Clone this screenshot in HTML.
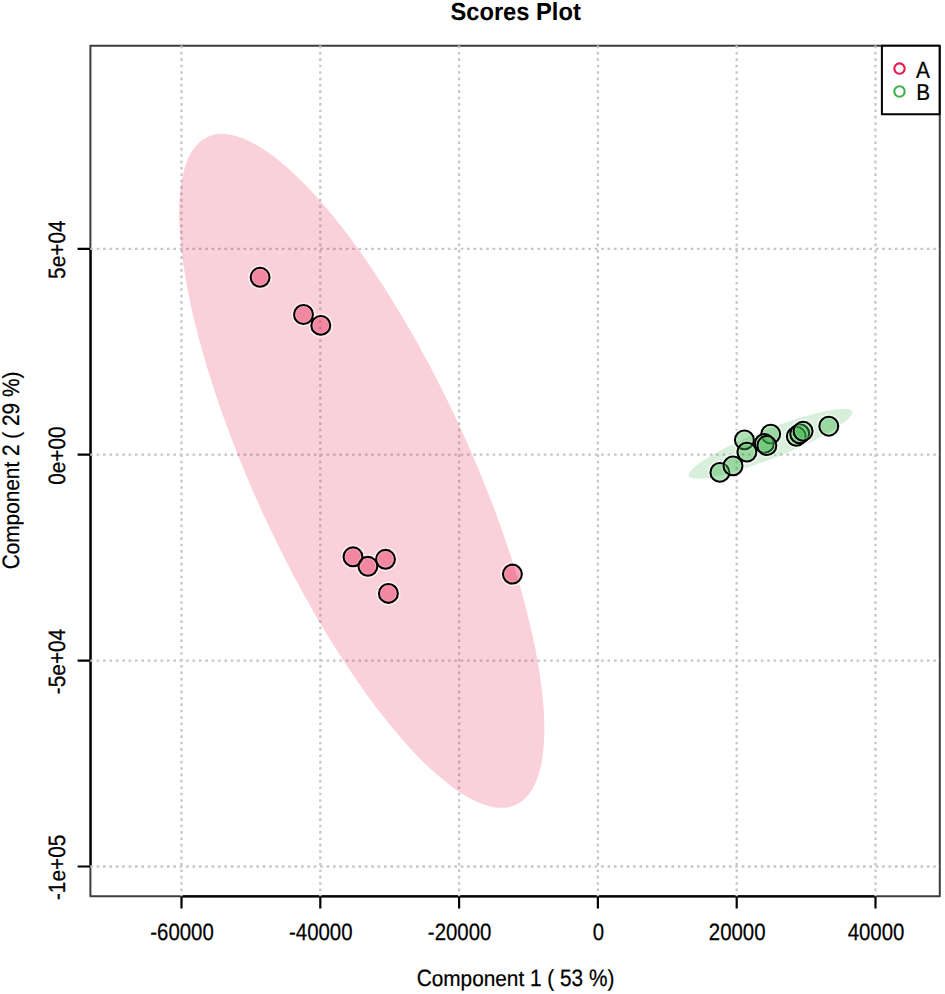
<!DOCTYPE html>
<html><head><meta charset="utf-8"><style>
html,body{margin:0;padding:0;background:#fff;width:945px;height:994px;overflow:hidden}
svg{display:block}
text{font-family:"Liberation Sans",sans-serif;text-rendering:geometricPrecision;stroke:#000;stroke-width:0.22px}
</style></head><body>
<svg width="945" height="994" viewBox="0 0 945 994">
<rect x="0" y="0" width="945" height="994" fill="#fff"/>
<rect x="90.4" y="45.7" width="849.40" height="850.60" fill="none" stroke="#000" stroke-opacity="0.76" stroke-width="2" stroke-linejoin="round"/>
<path d="M181.50 896.3H875.50M181.50 896.3V908.60M320.30 896.3V908.60M459.10 896.3V908.60M597.90 896.3V908.60M736.70 896.3V908.60M875.50 896.3V908.60" stroke="#000" stroke-width="2.2" fill="none" stroke-linejoin="round"/>
<path d="M90.60000000000001 248.80V866.50M90.60000000000001 248.80H77.60M90.60000000000001 454.70H77.60M90.60000000000001 660.60H77.60M90.60000000000001 866.50H77.60" stroke="#000" stroke-width="2.2" fill="none" stroke-linejoin="round"/>
<path d="M181.50 45.60V896.30M320.30 45.60V896.30M459.10 45.60V896.30M597.90 45.60V896.30M736.70 45.60V896.30M875.50 45.60V896.30M90.30 248.80H939.80M90.30 454.70H939.80M90.30 660.60H939.80M90.30 866.50H939.80" stroke="#c6c6c6" stroke-width="2.3" stroke-dasharray="2.6 3.786" fill="none"/>
<ellipse cx="361.78" cy="470.86" rx="367.86" ry="107.6" transform="rotate(65.21 361.78 470.86)" fill="#e6194b" fill-opacity="0.2"/>
<ellipse cx="770.5" cy="443.75" rx="87.9" ry="14.6" transform="rotate(-21.6 770.5 443.75)" fill="#3cb44b" fill-opacity="0.2"/>
<circle cx="260.1" cy="277.3" r="11.28" fill="none" stroke="#fff" stroke-opacity="0.6" stroke-width="1.6"/>
<circle cx="303.5" cy="314.5" r="11.28" fill="none" stroke="#fff" stroke-opacity="0.6" stroke-width="1.6"/>
<circle cx="320.8" cy="325.4" r="11.28" fill="none" stroke="#fff" stroke-opacity="0.6" stroke-width="1.6"/>
<circle cx="353.0" cy="556.8" r="11.28" fill="none" stroke="#fff" stroke-opacity="0.6" stroke-width="1.6"/>
<circle cx="385.5" cy="559.3" r="11.28" fill="none" stroke="#fff" stroke-opacity="0.6" stroke-width="1.6"/>
<circle cx="367.9" cy="566.3" r="11.28" fill="none" stroke="#fff" stroke-opacity="0.6" stroke-width="1.6"/>
<circle cx="388.4" cy="593.4" r="11.28" fill="none" stroke="#fff" stroke-opacity="0.6" stroke-width="1.6"/>
<circle cx="512.4" cy="574.1" r="11.28" fill="none" stroke="#fff" stroke-opacity="0.6" stroke-width="1.6"/>
<circle cx="719.9" cy="472.4" r="11.28" fill="none" stroke="#fff" stroke-opacity="0.6" stroke-width="1.6"/>
<circle cx="733.0" cy="465.9" r="11.28" fill="none" stroke="#fff" stroke-opacity="0.6" stroke-width="1.6"/>
<circle cx="744.4" cy="439.9" r="11.28" fill="none" stroke="#fff" stroke-opacity="0.6" stroke-width="1.6"/>
<circle cx="746.9" cy="452.1" r="11.28" fill="none" stroke="#fff" stroke-opacity="0.6" stroke-width="1.6"/>
<circle cx="770.7" cy="434.1" r="11.28" fill="none" stroke="#fff" stroke-opacity="0.6" stroke-width="1.6"/>
<circle cx="764.4" cy="443.4" r="11.28" fill="none" stroke="#fff" stroke-opacity="0.6" stroke-width="1.6"/>
<circle cx="766.9" cy="445.5" r="11.28" fill="none" stroke="#fff" stroke-opacity="0.6" stroke-width="1.6"/>
<circle cx="796.3" cy="436.3" r="11.28" fill="none" stroke="#fff" stroke-opacity="0.6" stroke-width="1.6"/>
<circle cx="799.7" cy="433.75" r="11.28" fill="none" stroke="#fff" stroke-opacity="0.6" stroke-width="1.6"/>
<circle cx="803.1" cy="431.2" r="11.28" fill="none" stroke="#fff" stroke-opacity="0.6" stroke-width="1.6"/>
<circle cx="828.8" cy="426.2" r="11.28" fill="none" stroke="#fff" stroke-opacity="0.6" stroke-width="1.6"/>
<circle cx="260.1" cy="277.3" r="9.45" fill="#e6194b" fill-opacity="0.4" stroke="#000" stroke-width="2.05"/><circle cx="260.1" cy="277.3" r="7.82" fill="none" stroke="#fff" stroke-opacity="0.22" stroke-width="1.0"/>
<circle cx="303.5" cy="314.5" r="9.45" fill="#e6194b" fill-opacity="0.4" stroke="#000" stroke-width="2.05"/><circle cx="303.5" cy="314.5" r="7.82" fill="none" stroke="#fff" stroke-opacity="0.22" stroke-width="1.0"/>
<circle cx="320.8" cy="325.4" r="9.45" fill="#e6194b" fill-opacity="0.4" stroke="#000" stroke-width="2.05"/><circle cx="320.8" cy="325.4" r="7.82" fill="none" stroke="#fff" stroke-opacity="0.22" stroke-width="1.0"/>
<circle cx="353.0" cy="556.8" r="9.45" fill="#e6194b" fill-opacity="0.4" stroke="#000" stroke-width="2.05"/><circle cx="353.0" cy="556.8" r="7.82" fill="none" stroke="#fff" stroke-opacity="0.22" stroke-width="1.0"/>
<circle cx="385.5" cy="559.3" r="9.45" fill="#e6194b" fill-opacity="0.4" stroke="#000" stroke-width="2.05"/><circle cx="385.5" cy="559.3" r="7.82" fill="none" stroke="#fff" stroke-opacity="0.22" stroke-width="1.0"/>
<circle cx="367.9" cy="566.3" r="9.45" fill="#e6194b" fill-opacity="0.4" stroke="#000" stroke-width="2.05"/><circle cx="367.9" cy="566.3" r="7.82" fill="none" stroke="#fff" stroke-opacity="0.22" stroke-width="1.0"/>
<circle cx="388.4" cy="593.4" r="9.45" fill="#e6194b" fill-opacity="0.4" stroke="#000" stroke-width="2.05"/><circle cx="388.4" cy="593.4" r="7.82" fill="none" stroke="#fff" stroke-opacity="0.22" stroke-width="1.0"/>
<circle cx="512.4" cy="574.1" r="9.45" fill="#e6194b" fill-opacity="0.4" stroke="#000" stroke-width="2.05"/><circle cx="512.4" cy="574.1" r="7.82" fill="none" stroke="#fff" stroke-opacity="0.22" stroke-width="1.0"/>
<circle cx="719.9" cy="472.4" r="9.45" fill="#3cb44b" fill-opacity="0.4" stroke="#000" stroke-width="2.05"/><circle cx="719.9" cy="472.4" r="7.82" fill="none" stroke="#fff" stroke-opacity="0.22" stroke-width="1.0"/>
<circle cx="733.0" cy="465.9" r="9.45" fill="#3cb44b" fill-opacity="0.4" stroke="#000" stroke-width="2.05"/><circle cx="733.0" cy="465.9" r="7.82" fill="none" stroke="#fff" stroke-opacity="0.22" stroke-width="1.0"/>
<circle cx="744.4" cy="439.9" r="9.45" fill="#3cb44b" fill-opacity="0.4" stroke="#000" stroke-width="2.05"/><circle cx="744.4" cy="439.9" r="7.82" fill="none" stroke="#fff" stroke-opacity="0.22" stroke-width="1.0"/>
<circle cx="746.9" cy="452.1" r="9.45" fill="#3cb44b" fill-opacity="0.4" stroke="#000" stroke-width="2.05"/><circle cx="746.9" cy="452.1" r="7.82" fill="none" stroke="#fff" stroke-opacity="0.22" stroke-width="1.0"/>
<circle cx="770.7" cy="434.1" r="9.45" fill="#3cb44b" fill-opacity="0.4" stroke="#000" stroke-width="2.05"/><circle cx="770.7" cy="434.1" r="7.82" fill="none" stroke="#fff" stroke-opacity="0.22" stroke-width="1.0"/>
<circle cx="764.4" cy="443.4" r="9.45" fill="#3cb44b" fill-opacity="0.4" stroke="#000" stroke-width="2.05"/><circle cx="764.4" cy="443.4" r="7.82" fill="none" stroke="#fff" stroke-opacity="0.22" stroke-width="1.0"/>
<circle cx="766.9" cy="445.5" r="9.45" fill="#3cb44b" fill-opacity="0.4" stroke="#000" stroke-width="2.05"/><circle cx="766.9" cy="445.5" r="7.82" fill="none" stroke="#fff" stroke-opacity="0.22" stroke-width="1.0"/>
<circle cx="796.3" cy="436.3" r="9.45" fill="#3cb44b" fill-opacity="0.4" stroke="#000" stroke-width="2.05"/><circle cx="796.3" cy="436.3" r="7.82" fill="none" stroke="#fff" stroke-opacity="0.22" stroke-width="1.0"/>
<circle cx="799.7" cy="433.75" r="9.45" fill="#3cb44b" fill-opacity="0.4" stroke="#000" stroke-width="2.05"/><circle cx="799.7" cy="433.75" r="7.82" fill="none" stroke="#fff" stroke-opacity="0.22" stroke-width="1.0"/>
<circle cx="803.1" cy="431.2" r="9.45" fill="#3cb44b" fill-opacity="0.4" stroke="#000" stroke-width="2.05"/><circle cx="803.1" cy="431.2" r="7.82" fill="none" stroke="#fff" stroke-opacity="0.22" stroke-width="1.0"/>
<circle cx="828.8" cy="426.2" r="9.45" fill="#3cb44b" fill-opacity="0.4" stroke="#000" stroke-width="2.05"/><circle cx="828.8" cy="426.2" r="7.82" fill="none" stroke="#fff" stroke-opacity="0.22" stroke-width="1.0"/>
<g transform="translate(182.00 940.10) scale(0.98 1.14)"><text x="0" y="0" text-anchor="middle" font-size="20.8" font-weight="normal" fill="#000">-60000</text></g>
<g transform="translate(320.80 940.10) scale(0.98 1.14)"><text x="0" y="0" text-anchor="middle" font-size="20.8" font-weight="normal" fill="#000">-40000</text></g>
<g transform="translate(459.60 940.10) scale(0.98 1.14)"><text x="0" y="0" text-anchor="middle" font-size="20.8" font-weight="normal" fill="#000">-20000</text></g>
<g transform="translate(598.40 940.10) scale(0.98 1.14)"><text x="0" y="0" text-anchor="middle" font-size="20.8" font-weight="normal" fill="#000">0</text></g>
<g transform="translate(737.20 940.10) scale(0.98 1.14)"><text x="0" y="0" text-anchor="middle" font-size="20.8" font-weight="normal" fill="#000">20000</text></g>
<g transform="translate(876.00 940.10) scale(0.98 1.14)"><text x="0" y="0" text-anchor="middle" font-size="20.8" font-weight="normal" fill="#000">40000</text></g>
<g transform="translate(65.00 249.70) rotate(-90)"><text transform="translate(-29.21 0) scale(1.0 1.14)" font-size="20.8">5</text><text transform="translate(-17.64 0) scale(1.0 1.06)" font-size="20.8">e</text><text transform="translate(-6.07 0) scale(1.0 1.14)" font-size="20.8">+04</text></g>
<g transform="translate(65.00 455.60) rotate(-90)"><text transform="translate(-29.21 0) scale(1.0 1.14)" font-size="20.8">0</text><text transform="translate(-17.64 0) scale(1.0 1.06)" font-size="20.8">e</text><text transform="translate(-6.07 0) scale(1.0 1.14)" font-size="20.8">+00</text></g>
<g transform="translate(65.00 661.50) rotate(-90)"><text transform="translate(-32.67 0) scale(1.0 1.14)" font-size="20.8">-5</text><text transform="translate(-14.18 0) scale(1.0 1.06)" font-size="20.8">e</text><text transform="translate(-2.61 0) scale(1.0 1.14)" font-size="20.8">+04</text></g>
<g transform="translate(65.00 867.40) rotate(-90)"><text transform="translate(-32.67 0) scale(1.0 1.14)" font-size="20.8">-1</text><text transform="translate(-14.18 0) scale(1.0 1.06)" font-size="20.8">e</text><text transform="translate(-2.61 0) scale(1.0 1.14)" font-size="20.8">+05</text></g>
<g transform="translate(515.50 985.70)"><text transform="translate(-98.85 0) scale(1.0 1.14)" font-size="20.8">C</text><text transform="translate(-83.83 0) scale(1.0 1.06)" font-size="20.8">omponent&#160;</text><text transform="translate(14.46 0) scale(1.0 1.14)" font-size="20.8">1&#160;</text><text transform="translate(31.81 0) scale(1.0 1.11)" font-size="20.8">(&#160;</text><text transform="translate(44.51 0) scale(1.0 1.14)" font-size="20.8">53&#160;%</text><text transform="translate(91.92 0) scale(1.0 1.11)" font-size="20.8">)</text></g>
<g transform="translate(18.50 470.50) rotate(-90)"><text transform="translate(-98.85 0) scale(1.0 1.14)" font-size="20.8">C</text><text transform="translate(-83.83 0) scale(1.0 1.06)" font-size="20.8">omponent&#160;</text><text transform="translate(14.46 0) scale(1.0 1.14)" font-size="20.8">2&#160;</text><text transform="translate(31.81 0) scale(1.0 1.11)" font-size="20.8">(&#160;</text><text transform="translate(44.51 0) scale(1.0 1.14)" font-size="20.8">29&#160;%</text><text transform="translate(91.92 0) scale(1.0 1.11)" font-size="20.8">)</text></g>
<g transform="translate(515.60 20.00) scale(1 1.04)"><text x="0" y="0" text-anchor="middle" font-size="23.7" font-weight="bold" fill="#000" style="stroke-width:0.05px">Scores Plot</text></g>
<rect x="881.9" y="45.8" width="57.7" height="68.4" fill="#fff" stroke="#000" stroke-width="2" stroke-linejoin="round"/>
<circle cx="899.5" cy="68.6" r="5.2" fill="none" stroke="#e6194b" stroke-width="2.1"/>
<circle cx="899.5" cy="91.5" r="5.2" fill="none" stroke="#3cb44b" stroke-width="2.1"/>
<g transform="translate(916.10 77.60) scale(1 1.12)"><text x="0" y="0" text-anchor="start" font-size="20.8" font-weight="normal" fill="#000">A</text></g>
<g transform="translate(916.30 99.80) scale(1 1.1)"><text x="0" y="0" text-anchor="start" font-size="20.8" font-weight="normal" fill="#000">B</text></g>
</svg>
</body></html>
